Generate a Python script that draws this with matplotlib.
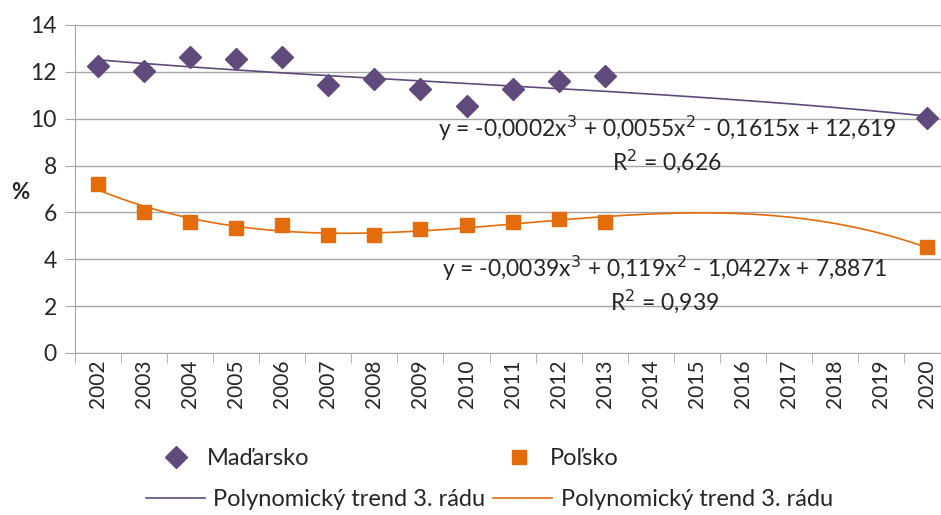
import numpy as np
import matplotlib
matplotlib.use("Agg")
import matplotlib.pyplot as plt
from matplotlib.lines import Line2D

plt.rcParams['font.family'] = ['Lato', 'DejaVu Sans']

# category axis 2002..2020 (values only for 2002-2013 and 2020)
years = [str(y) for y in range(2002, 2021)]
data_years = [2002, 2003, 2004, 2005, 2006, 2007, 2008, 2009, 2010, 2011, 2012, 2013, 2020]
madarsko = [12.25, 12.04, 12.63, 12.55, 12.63, 11.44, 11.69, 11.27, 10.54, 11.27, 11.6, 11.82, 10.03]
polsko = [7.21, 6.02, 5.59, 5.34, 5.46, 5.04, 5.04, 5.29, 5.46, 5.59, 5.72, 5.59, 4.52]

eq_hu = "y = -0,0002x$^3$ + 0,0055x$^2$ - 0,1615x + 12,619\nR$^2$ = 0,626"
eq_pl = "y = -0,0039x$^3$ + 0,119x$^2$ - 1,0427x + 7,8871\nR$^2$ = 0,939"

purple = '#604A7B'
orange = '#E46C0A'
grid_c = '#a6a6a6'
txt_c = '#262626'

fig = plt.figure(figsize=(9.41, 5.15), dpi=100)
ax = fig.add_axes([0.0797, 0.3146, 0.93, 0.6369])

# category index like Excel (1..19)
idx = np.array([y - 2001 for y in data_years])

ax.plot(idx, madarsko, linestyle='none', marker='D', ms=11, color=purple, clip_on=False)
ax.plot(idx, polsko, linestyle='none', marker='s', ms=10.5, color=orange, clip_on=False)

# 3rd order polynomial trend lines fitted to the data
xs = np.linspace(1, 19, 300)
p_hu = np.polyfit(idx, madarsko, 3)
p_pl = np.polyfit(idx, polsko, 3)
ax.plot(xs, np.polyval(p_hu, xs), color=purple, lw=1.2)
ax.plot(xs, np.polyval(p_pl, xs), color=orange, lw=1.2)

ax.text(13.35, 10.2, eq_hu, ha='center', va='top', fontsize=16.5, color=txt_c,
        linespacing=1.2)
ax.text(13.3, 4.25, eq_pl, ha='center', va='top', fontsize=16.5, color=txt_c,
        linespacing=1.2)

ax.set_xlim(0.5, 19.5)
ax.set_ylim(0, 14)
ax.set_yticks(range(0, 15, 2))
ax.set_xticks(range(1, 20))
ax.set_xticklabels(years, rotation=90, fontsize=15, color=txt_c)
ax.set_xticks(np.arange(0.5, 20, 1), minor=True)
ax.tick_params(axis='x', which='major', length=0, pad=5)
ax.tick_params(axis='x', which='minor', length=7, color=grid_c, direction='out')
ax.tick_params(axis='y', length=7, color=grid_c, labelsize=16.5, labelcolor=txt_c, pad=6)
ax.grid(axis='y', color=grid_c, lw=1)
ax.set_axisbelow(True)
for s in ['top', 'right']:
    ax.spines[s].set_visible(False)
for s in ['left', 'bottom']:
    ax.spines[s].set_color(grid_c)
ax.set_ylabel('%', rotation=0, fontsize=16, fontweight='bold', va='center', color=txt_c)
ax.yaxis.set_label_coords(-0.062, 0.49)

# legends below
h1 = [Line2D([], [], ls='none', marker='D', ms=11, color=purple),
      Line2D([], [], ls='none', marker='s', ms=10.5, color=orange)]
fig.legend(h1, ['Maďarsko', 'Poľsko'], ncol=2, loc='center',
           bbox_to_anchor=(0.416, 0.11), frameon=False, fontsize=17, labelcolor=txt_c,
           columnspacing=8.4, handlelength=1.0, handletextpad=0.8)
h2 = [Line2D([], [], color=purple, lw=1.2), Line2D([], [], color=orange, lw=1.2)]
fig.legend(h2, ['Polynomický trend 3. rádu', 'Polynomický trend 3. rádu'], ncol=2,
           loc='center', bbox_to_anchor=(0.52, 0.03), frameon=False, fontsize=17,
           labelcolor=txt_c, columnspacing=0.35, handletextpad=0.35, handlelength=2.5)

plt.savefig('out.png', dpi=100)
